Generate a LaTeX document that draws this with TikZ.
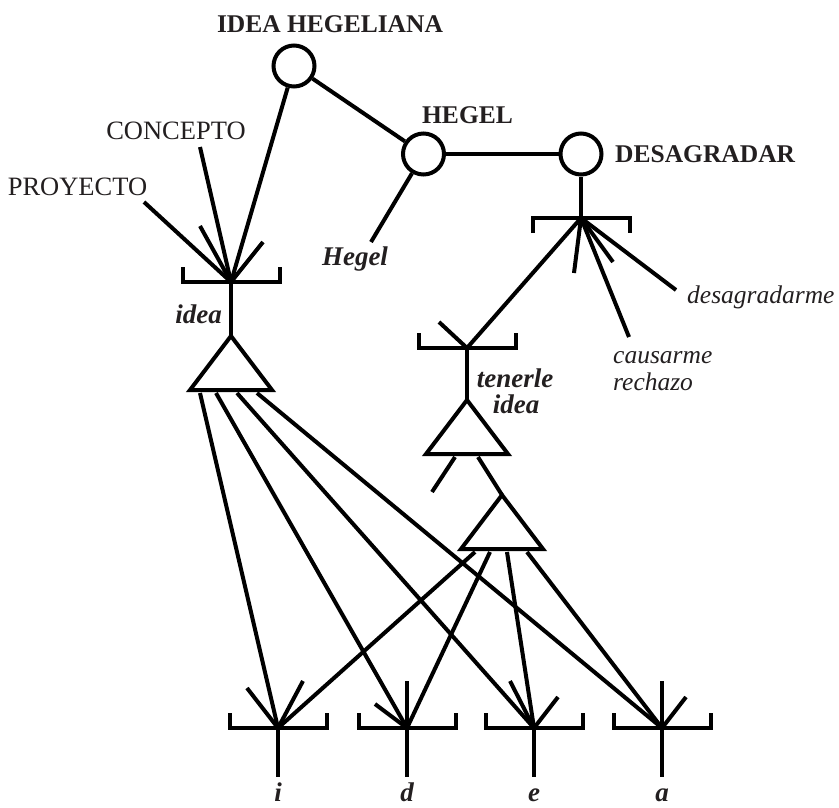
\documentclass[tikz,border=0pt]{standalone}
\usepackage{fontspec}
\setmainfont{Liberation Serif}
\usetikzlibrary{calc}
\definecolor{txt}{HTML}{231F20}
\begin{document}
\begin{tikzpicture}[x=1pt,y=-1pt,
  ln/.style={line width=4pt, line join=miter, line cap=butt},
  circ/.style={draw, circle, line width=4pt, minimum size=41pt, inner sep=0pt},
  bcap/.style={text=txt, font=\fontsize{25.5}{30}\selectfont\bfseries, inner sep=0pt},
  rcap/.style={text=txt, font=\fontsize{26.5}{30}\selectfont, inner sep=0pt},
  ital/.style={text=txt, font=\fontsize{25.5}{30}\selectfont\itshape, inner sep=0pt},
  bital/.style={text=txt, font=\fontsize{27}{30}\selectfont\bfseries\itshape, inner sep=0pt},
  ubrk/.pic={\draw[ln] (-48.5,-15) -- (-48.5,0) -- (48.5,0) -- (48.5,-15);},
  dbrk/.pic={\draw[ln] (-48.5,15) -- (-48.5,0) -- (48.5,0) -- (48.5,15);},
  tri/.pic={\draw[ln] (0,0) -- (-41,54) -- (41,54) -- cycle;}
]
\useasboundingbox (0,0) rectangle (839,807);

% circles
\node[circ] (ih) at (294,66) {};
\node[circ] (heg) at (423.5,154) {};
\node[circ] (des) at (581,154) {};

% labels
\node[bcap, anchor=base] (lih) at (330,32) {IDEA HEGELIANA};
\node[bcap, anchor=base] (lheg) at (467.5,123) {HEGEL};
\node[bcap, anchor=base west] (ldes) at (615,162) {DESAGRADAR};
\node[rcap, anchor=base] (lcon) at (176,139) {CONCEPTO};
\node[rcap, anchor=base] (lpro) at (77.5,195) {PROYECTO};
\node[bital, anchor=base] (lhegel) at (355,265) {Hegel};
\node[bital, anchor=base] (lidea) at (198.5,323) {idea};
\node[bital, anchor=base] (lten1) at (515,387) {tenerle};
\node[bital, anchor=base] (lten2) at (516,413) {idea};
\node[ital, anchor=base west] (lcau1) at (613,363) {causarme};
\node[ital, anchor=base west] (lcau2) at (613,390) {rechazo};
\node[ital, anchor=base west] (ldesm) at (687,303) {desagradarme};
\node[bital, anchor=base] (li) at (278,801) {i};
\node[bital, anchor=base] (ld) at (407,801) {d};
\node[bital, anchor=base] (le) at (534,801) {e};
\node[bital, anchor=base] (la) at (662,801) {a};

% bracket centres, triangle apexes
\coordinate (lb) at (231,282);
\coordinate (rb) at (581,218);
\coordinate (tb) at (467,348);
\coordinate (bi) at (278,728);
\coordinate (bd) at (407,728);
\coordinate (be) at (534,728);
\coordinate (ba) at (662,728);
\coordinate (t1) at (231,336);
\coordinate (t2) at (467,400);
\coordinate (t3) at (502,495);

% free ends
\coordinate (pe) at (144,202);
\coordinate (ce) at (200,147);
\coordinate (ls1) at (200,226);
\coordinate (ls2) at (263,242);
\coordinate (he) at (371,242);
\coordinate (rs1) at (574,273);
\coordinate (rs2) at (613,262);
\coordinate (ca) at (629,337);
\coordinate (dm) at (676,290);
\coordinate (ts) at (439,322);
\coordinate (t2a) at (455,457);
\coordinate (t2ae) at (432,492);
\coordinate (t2b) at (478,457);
\coordinate (t1a) at (200,393);
\coordinate (t1b) at (216,393);
\coordinate (t1c) at (237,393);
\coordinate (t1d) at (257,393);
\coordinate (t3a) at (475,552);
\coordinate (t3b) at (490,552);
\coordinate (t3c) at (507,552);
\coordinate (t3d) at (527,552);

% brackets and triangles
\pic at (lb) {ubrk};
\pic at (rb) {dbrk};
\pic at (tb) {ubrk};
\pic at (bi) {ubrk};
\pic at (bd) {ubrk};
\pic at (be) {ubrk};
\pic at (ba) {ubrk};
\pic at (t1) {tri};
\pic at (t2) {tri};
\pic at (t3) {tri};

% connectors
\draw[ln] (ih) -- (heg);
\draw[ln] (heg) -- (des);
\draw[ln] (ih) -- (lb);
\draw[ln] (heg) -- (he);
\draw[ln] (des) -- (rb);
\draw[ln] (pe) -- (lb);
\draw[ln] (ce) -- (lb);
\draw[ln] (ls1) -- (lb);
\draw[ln] (ls2) -- (lb);
\draw[ln] (lb) -- (t1);
\draw[ln] (rb) -- (tb);
\draw[ln] (rb) -- (rs1);
\draw[ln] (rb) -- (rs2);
\draw[ln] (rb) -- (ca);
\draw[ln] (rb) -- (dm);
\draw[ln] (tb) -- (ts);
\draw[ln] (tb) -- (t2);
\draw[ln] (t2a) -- (t2ae);
\draw[ln] (t2b) -- (t3);
\draw[ln] (t1a) -- (bi);
\draw[ln] (t1b) -- (bd);
\draw[ln] (t1c) -- (be);
\draw[ln] (t1d) -- (ba);
\draw[ln] (t3a) -- (bi);
\draw[ln] (t3b) -- (bd);
\draw[ln] (t3c) -- (be);
\draw[ln] (t3d) -- (ba);

% bottom stubs and stems
\coordinate (bi1) at (247,688);
\coordinate (bi2) at (303,681);
\coordinate (bd1) at (375,704);
\coordinate (bd2) at (407,681);
\coordinate (be1) at (510,681);
\coordinate (be2) at (558,697);
\coordinate (ba1) at (662,681);
\coordinate (ba2) at (686,697);
\draw[ln] (bi1) -- (bi);
\draw[ln] (bi2) -- (bi);
\draw[ln] (bd1) -- (bd);
\draw[ln] (bd2) -- (bd);
\draw[ln] (be1) -- (be);
\draw[ln] (be2) -- (be);
\draw[ln] (ba1) -- (ba);
\draw[ln] (ba2) -- (ba);
\coordinate (si) at (278,777);
\coordinate (sd) at (407,777);
\coordinate (se) at (534,777);
\coordinate (sa) at (662,777);
\draw[ln] (bi) -- (si);
\draw[ln] (bd) -- (sd);
\draw[ln] (be) -- (se);
\draw[ln] (ba) -- (sa);
\end{tikzpicture}
\end{document}
